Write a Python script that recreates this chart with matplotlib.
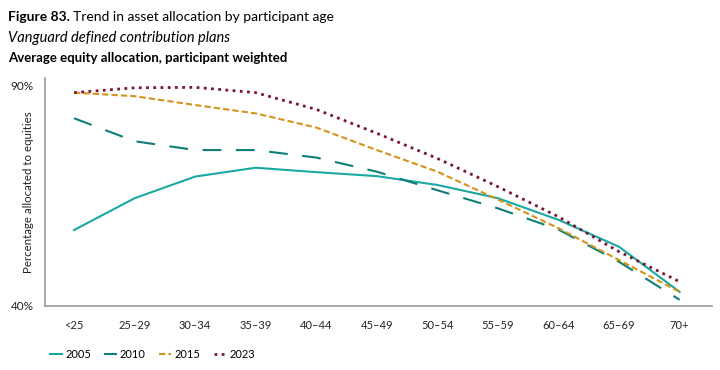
import matplotlib
matplotlib.use("Agg")
import matplotlib.pyplot as plt

plt.rcParams['font.family'] = ['Lato', 'DejaVu Sans']

ages = ["<25", "25–29", "30–34", "35–39", "40–44", "45–49",
        "50–54", "55–59", "60–64", "65–69", "70+"]
y2005 = [57.2, 64.4, 69.3, 71.3, 70.3, 69.4, 67.4, 64.4, 59.5, 53.4, 43.2]
y2010 = [82.5, 77.3, 75.3, 75.3, 73.6, 70.4, 66.2, 62.1, 57.3, 50.0, 41.4]
y2015 = [88.3, 87.5, 85.5, 83.6, 80.4, 75.3, 70.4, 64.1, 57.6, 50.4, 43.2]
y2023 = [88.3, 89.4, 89.5, 88.3, 84.5, 79.1, 73.4, 67.0, 60.2, 52.3, 45.5]
yticks = [40, 90]
yticklabels = ["40%", "90%"]

fig = plt.figure(figsize=(7.2, 3.7), dpi=100)
ax = fig.add_axes([0.0625, 0.173, 0.926, 0.616])

x = range(len(ages))
ax.plot(x, y2005, color='#1aa8a2', lw=1.5, label='2005')
ax.plot(x, y2010, color='#0e7f78', lw=1.5, dashes=(9, 7), label='2010')
ax.plot(x, y2015, color='#d4931a', lw=1.5, dashes=(3, 1.5), label='2015')
ax.plot(x, y2023, color='#7b1533', lw=2, linestyle=(0, (1, 1.6)), label='2023')

ax.set_xlim(-0.48, 10.53)
ax.set_ylim(40, 91.6)
ax.set_xticks(list(x))
ax.set_xticklabels(ages, fontsize=8, color='#222222')
ax.set_yticks(yticks)
ax.set_yticklabels(yticklabels, fontsize=8.5, color='#222222')
ax.tick_params(length=0, pad=10)
ax.tick_params(axis='y', pad=8)
ax.set_ylabel("Percentage allocated to equities", fontsize=8.3, color='#222222')
ax.yaxis.set_label_coords(-0.017, 0.5)
for s in ['top', 'right']:
    ax.spines[s].set_visible(False)
for s in ['left', 'bottom']:
    ax.spines[s].set_color('#999999')
    ax.spines[s].set_linewidth(1.2)

t1 = fig.text(0.011, 0.955, "Figure 83.", fontsize=10, fontweight='bold', va='center')
fig.canvas.draw()
bb = t1.get_window_extent().transformed(fig.transFigure.inverted())
fig.text(bb.x1 + 0.005, 0.955, "Trend in asset allocation by participant age", fontsize=10, va='center')
fig.text(0.011, 0.898, "Vanguard defined contribution plans", fontsize=10.5, style='italic', va='center')
fig.text(0.011, 0.843, "Average equity allocation, participant weighted", fontsize=9.5,
         fontweight='bold', va='center')

leg = fig.legend(loc='center left', bbox_to_anchor=(0.055, 0.043), ncol=4, frameon=False,
                 fontsize=8, handlelength=1.1, handletextpad=0.3, columnspacing=1.2)

fig.savefig("out.png", dpi=100)
